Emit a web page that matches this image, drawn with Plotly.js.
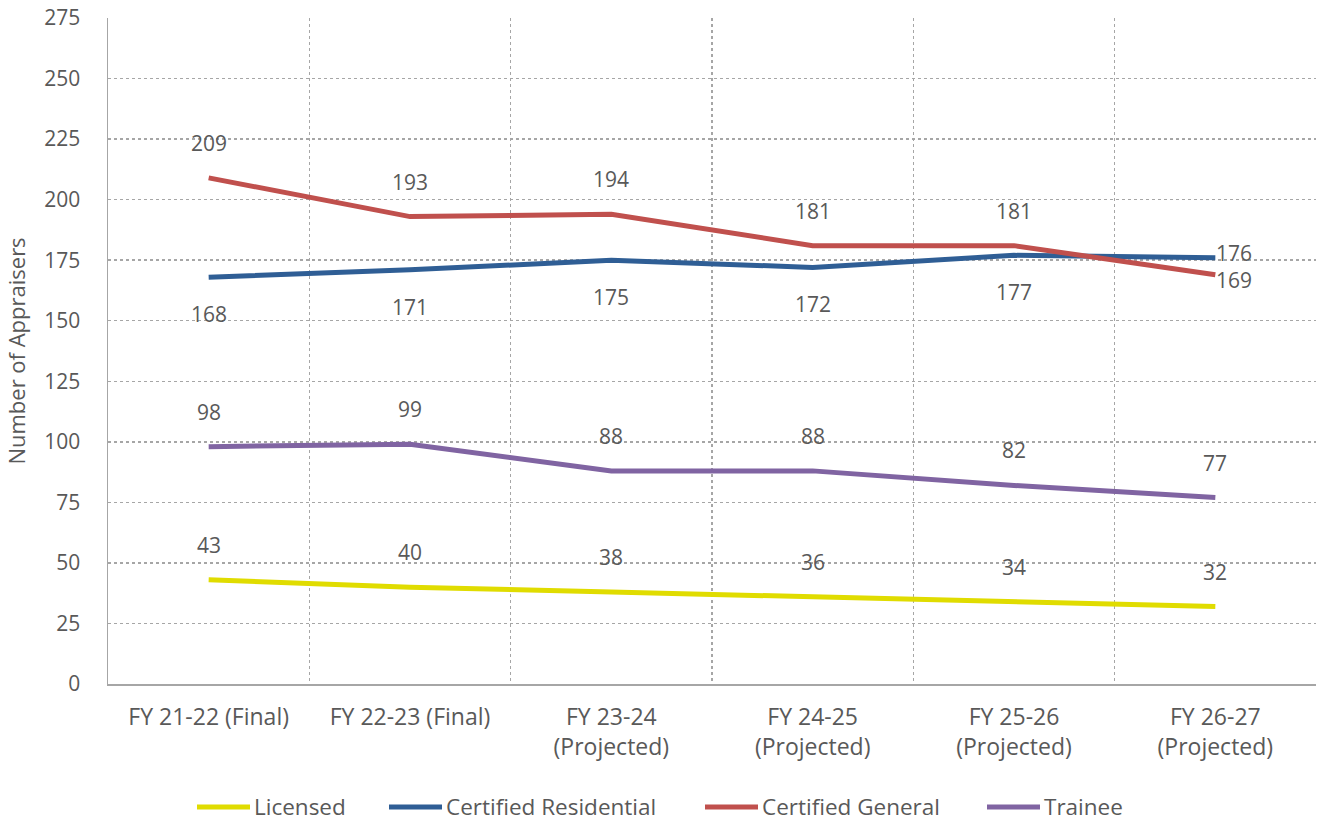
<!DOCTYPE html>
<html>
<head>
<meta charset="utf-8">
<script src="https://cdn.plot.ly/plotly-3.0.1.min.js"></script>
<style>html,body{margin:0;padding:0;background:#fff;}#chart{width:1320px;height:822px;}</style>
</head>
<body>
<div id="chart"></div>
<script>
const categories = ["FY 21-22 (Final)", "FY 22-23 (Final)", "FY 23-24<br>(Projected)", "FY 24-25<br>(Projected)", "FY 25-26<br>(Projected)", "FY 26-27<br>(Projected)"];
const seriesNames = ["Licensed", "Certified Residential", "Certified General", "Trainee"];
const licensed = [43, 40, 38, 36, 34, 32];
const certifiedResidential = [168, 171, 175, 172, 177, 176];
const certifiedGeneral = [209, 193, 194, 181, 181, 169];
const trainee = [98, 99, 88, 88, 82, 77];
const yTicks = [0, 25, 50, 75, 100, 125, 150, 175, 200, 225, 250, 275];

const FONT = "Open Sans, sans-serif";
const TXT = "#595959";
const colors = ["#E0DC00", "#2F5E95", "#C0504D", "#8064A2"];
const labelPos = ["above", "below", "above", "above"];
const values = [licensed, certifiedResidential, certifiedGeneral, trainee];

// plot area in pixels (for the hand-drawn legend below the axis)
const M = {l: 108, r: 4, t: 18, b: 138};
const W = 1320, H = 822;
const pw = W - M.l - M.r, ph = H - M.t - M.b;
const px2paper = x => (x - M.l) / pw;
const py2paper = y => (H - M.b - y) / ph;
const legendStartPx = [195, 387, 703, 985];
const legendLineLen = 57;
const legendYPx = 806;

const traces = seriesNames.map((n, k) => ({
  type: "scatter", mode: "lines", name: n,
  x: categories, y: values[k],
  line: {color: colors[k], width: 5},
  showlegend: false
}));

const annotations = [];
const shapes = [];
seriesNames.forEach((n, k) => {
  values[k].forEach((v, i) => {
    const last = i === values[k].length - 1 && (n === "Certified Residential" || n === "Certified General");
    const a = {x: categories[i], y: v, xref: "x", yref: "y", text: String(v), showarrow: false,
      font: {family: FONT, size: 21, color: TXT}};
    if (last) {
      a.xanchor = "left"; a.xshift = -1;
      a.yshift = n === "Certified Residential" ? 5 : -5;
    } else {
      a.yshift = labelPos[k] === "above" ? 35 : -37;
    }
    annotations.push(a);
  });
  // legend entry
  const x0 = legendStartPx[k];
  shapes.push({type: "line", xref: "paper", yref: "paper",
    x0: px2paper(x0 + 2), x1: px2paper(x0 + legendLineLen - 2),
    y0: py2paper(legendYPx + 1), y1: py2paper(legendYPx + 1),
    line: {color: colors[k], width: 5}});
  annotations.push({xref: "paper", yref: "paper", x: px2paper(x0 + legendLineLen + 1), y: py2paper(legendYPx),
    xanchor: "left", yanchor: "middle", showarrow: false, text: n, borderpad: 0,
    font: {family: FONT, size: 22.5, color: TXT}});
});

const layout = {
  width: W, height: H,
  margin: M,
  paper_bgcolor: "#fff", plot_bgcolor: "#fff",
  font: {family: FONT, size: 21, color: TXT},
  showlegend: false,
  xaxis: {type: "category", tickson: "boundaries", showgrid: true, gridcolor: "#A6A6A6", griddash: "dot", gridwidth: 1.5,
    showline: true, linecolor: "#A6A6A6", linewidth: 1.5, ticks: "", ticklabelstandoff: 12,
    tickfont: {family: FONT, size: 23, color: TXT}, range: [-0.5, 5.5], fixedrange: true, zeroline: false},
  yaxis: {range: [0, 275], tickvals: yTicks, ticktext: yTicks.map(String), showgrid: true, gridcolor: "#A6A6A6", griddash: "dot", gridwidth: 1.5,
    showline: true, linecolor: "#A6A6A6", linewidth: 1.5, ticks: "", ticklabelstandoff: 22, zeroline: false,
    tickfont: {family: FONT, size: 21, color: TXT},
    title: {text: "Number of Appraisers", font: {family: FONT, size: 22, color: TXT}, standoff: 12}},
  annotations: annotations,
  shapes: shapes
};

Plotly.newPlot("chart", traces, layout, {displayModeBar: false, staticPlot: true});
</script>
</body>
</html>
